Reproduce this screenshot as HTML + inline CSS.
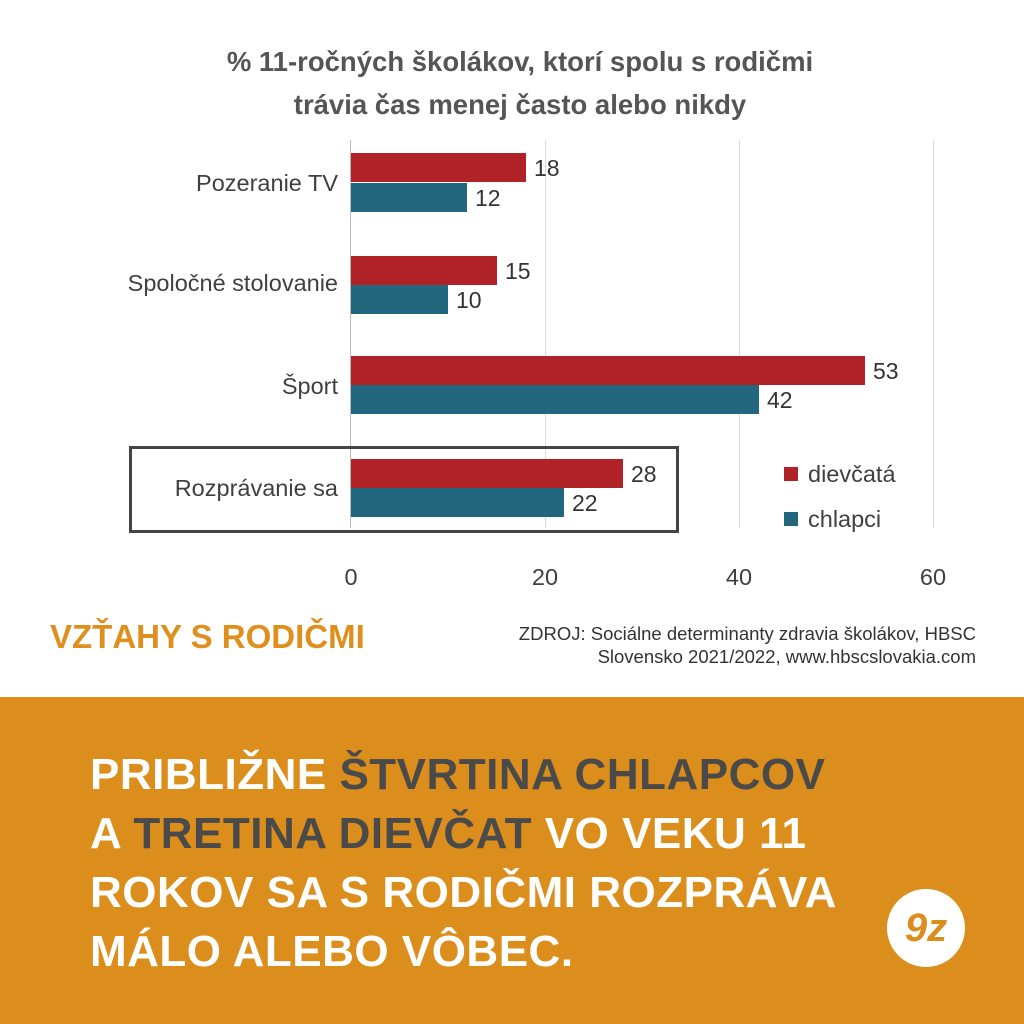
<!DOCTYPE html><html><head><meta charset="utf-8"><style>
body{margin:0;width:1024px;height:1024px;position:relative;background:#fff;font-family:"Liberation Sans","DejaVu Sans",sans-serif;overflow:hidden}
.a{position:absolute}
.bar{position:absolute;height:29px}
.r{background:#b02228}.b{background:#23677f}
.v{position:absolute;font-size:23px;color:#333}
.lab{position:absolute;font-size:23.5px;color:#404040;text-align:right;right:686px;white-space:nowrap}
.g{position:absolute;top:140px;width:1px;height:388px;background:#d9d9d9}
.t{position:absolute;top:564px;font-size:23.5px;color:#404040;width:60px;text-align:center}
</style></head><body>
<div class="a" style="left:0;width:1040px;top:40px;text-align:center;font-size:27.5px;font-weight:bold;color:#555;line-height:43px">% 11-ročných školákov, ktorí spolu s rodičmi<br>trávia čas menej často alebo nikdy</div>
<div class="g" style="left:545px"></div><div class="g" style="left:739px"></div><div class="g" style="left:933px"></div>
<div class="g" style="left:350px;background:#bbb"></div>
<div class="bar r" style="left:351px;top:153px;width:175px"></div><div class="bar b" style="left:351px;top:183px;width:116px"></div>
<div class="bar r" style="left:351px;top:256px;width:146px"></div><div class="bar b" style="left:351px;top:285px;width:97px"></div>
<div class="bar r" style="left:351px;top:356px;width:514px"></div><div class="bar b" style="left:351px;top:385px;width:408px"></div>
<div class="bar r" style="left:351px;top:459px;width:272px"></div><div class="bar b" style="left:351px;top:488px;width:213px"></div>
<div class="v" style="left:534px;top:155px">18</div><div class="v" style="left:475px;top:185px">12</div>
<div class="v" style="left:505px;top:258px">15</div><div class="v" style="left:456px;top:287px">10</div>
<div class="v" style="left:873px;top:358px">53</div><div class="v" style="left:767px;top:387px">42</div>
<div class="v" style="left:631px;top:461px">28</div><div class="v" style="left:572px;top:490px">22</div>
<div class="lab" style="top:170px">Pozeranie TV</div>
<div class="lab" style="top:270px">Spoločné stolovanie</div>
<div class="lab" style="top:373px">Šport</div>
<div class="lab" style="top:475px">Rozprávanie sa</div>
<div class="a" style="left:129px;top:446px;width:544px;height:81px;border:3px solid #444"></div>
<div class="a" style="left:784px;top:467px;width:14px;height:14px;background:#b02228"></div>
<div class="a" style="left:808px;top:461px;font-size:23.5px;color:#404040">dievčatá</div>
<div class="a" style="left:784px;top:512px;width:14px;height:14px;background:#23677f"></div>
<div class="a" style="left:808px;top:506px;font-size:23.5px;color:#404040">chlapci</div>
<div class="t" style="left:321px">0</div><div class="t" style="left:515px">20</div><div class="t" style="left:709px">40</div><div class="t" style="left:903px">60</div>
<div class="a" style="left:50px;top:618px;font-size:33px;font-weight:bold;color:#df8f1e;transform:scaleX(1.0);transform-origin:left">VZŤAHY S RODIČMI</div>
<div class="a" style="right:48px;top:622px;font-size:18.5px;color:#333;text-align:right;line-height:23px">ZDROJ: Sociálne determinanty zdravia školákov, HBSC<br>Slovensko 2021/2022, www.hbscslovakia.com</div>
<div class="a" style="left:0;top:697px;width:1024px;height:327px;background:#db8e1b"></div>
<div class="a" style="left:90px;top:745px;font-size:44px;font-weight:bold;color:#fff;line-height:59px;letter-spacing:0.5px">PRIBLIŽNE <span style="color:#4a4a4a">ŠTVRTINA CHLAPCOV</span><br>A <span style="color:#4a4a4a">TRETINA DIEVČAT</span> VO VEKU 11<br>ROKOV SA S RODIČMI ROZPRÁVA<br>MÁLO ALEBO VÔBEC.</div>
<div class="a" style="left:887px;top:889px;width:78px;height:78px;border-radius:50%;background:#fff;color:#db8e1b;font-size:40px;font-weight:bold;font-style:italic;text-align:center;line-height:78px">9z</div>
</body></html>
